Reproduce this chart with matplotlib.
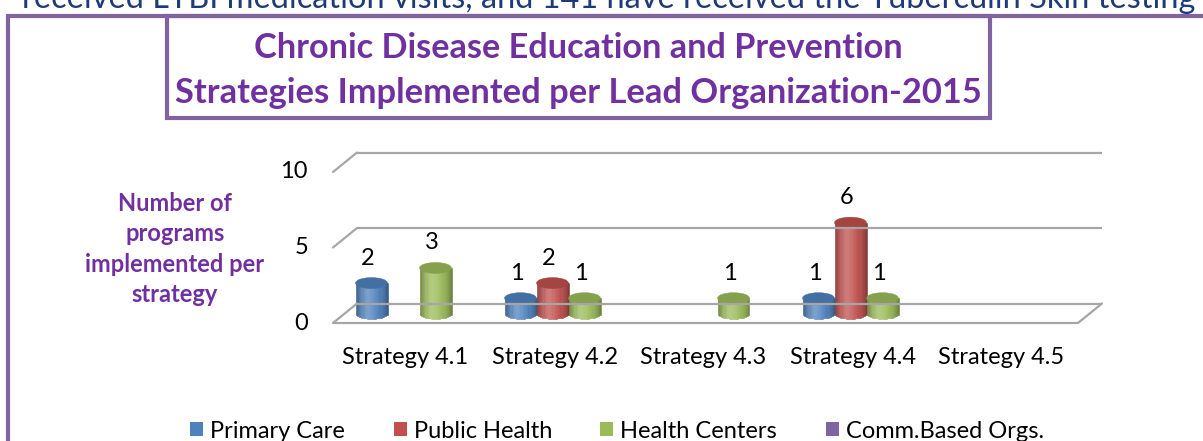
import numpy as np
import matplotlib
matplotlib.use("Agg")
import matplotlib.pyplot as plt
from matplotlib.patches import Rectangle, Ellipse, Patch
from matplotlib.lines import Line2D
from matplotlib.transforms import ScaledTranslation
from matplotlib.colors import to_rgb

# ---------------- data ----------------
categories = ["Strategy 4.1", "Strategy 4.2", "Strategy 4.3", "Strategy 4.4", "Strategy 4.5"]
series_names = ["Primary Care", "Public Health", "Health Centers", "Comm.Based Orgs."]
primary_care = [2, 1, 0, 1, 0]
public_health = [0, 2, 0, 6, 0]
health_centers = [3, 1, 1, 1, 0]
comm_based = [0, 0, 0, 0, 0]
y_ticks = [0, 5, 10]
title_lines = ["Chronic Disease Education and Prevention",
               "Strategies Implemented per Lead Organization-2015"]
y_title = "Number of\nprograms\nimplemented per\nstrategy"
top_text = "received LTBI medication visits, and 141 have received the Tuberculin Skin testing"

series = [primary_care, public_health, health_centers, comm_based]
colors = ["#4F81BD", "#C0504D", "#9BBB59", "#8064A2"]

W, H = 1203, 441
DPI = 100
plt.rcParams['font.family'] = ['Lato', 'DejaVu Sans']
fig = plt.figure(figsize=(W / DPI, H / DPI), dpi=DPI)
fig.patch.set_facecolor("white")

purple_txt = "#7030A0"
frame_col = "#8064A2"
FS = 17

# overlay axes in pixel coordinates for decorations
deco = fig.add_axes([0, 0, 1, 1])
deco.set_xlim(0, W)
deco.set_ylim(H, 0)
deco.axis("off")

# outer frame
deco.add_line(Line2D([8, 8, W + 5], [H + 5, 16, 16], color=frame_col, lw=3.0,
                     solid_joinstyle="miter"))
# title box
deco.add_patch(Rectangle((167, 16), 823, 102, fill=False, edgecolor=frame_col, lw=3.0))

renderer = fig.canvas.get_renderer()


def fit(t, width_px):
    bb = t.get_window_extent(renderer=renderer)
    t.set_fontsize(t.get_fontsize() * width_px / bb.width)


t0 = deco.text(22, 8, top_text, color="#1F3A78", fontsize=20, ha="left", va="baseline")
fit(t0, 1178)

tt1 = deco.text(578, 48, title_lines[0], color=purple_txt, fontsize=21, fontweight="bold",
                ha="center", va="center")
fit(tt1, 648)
tt2 = deco.text(578, 93, title_lines[1], color=purple_txt, fontsize=21, fontweight="bold",
                ha="center", va="center")
fit(tt2, 806)

deco.text(175, 249, y_title, color=purple_txt, fontsize=17, fontweight="bold",
          ha="center", va="center", linespacing=1.38)

# ---------------- chart axes (front plane) ----------------
x0, x1 = 333, 1078
yb, yt = 323, 172
ax = fig.add_axes([x0 / W, (H - yb) / H, (x1 - x0) / W, (yb - yt) / H])
ax.set_xlim(-0.5, len(categories) - 0.5)
ax.set_ylim(0, 10)
ax.axis("off")

depth_back = ax.transData + ScaledTranslation(24 / DPI, 19.5 / DPI, fig.dpi_scale_trans)
depth_mid = ax.transData + ScaledTranslation(12 / DPI, 9.75 / DPI, fig.dpi_scale_trans)

grid_col = "#A6A6A6"
xl, xr = -0.5, len(categories) - 0.5
for v in y_ticks:
    ax.plot([xl, xr], [v, v], color=grid_col, lw=1.6, transform=depth_back, clip_on=False,
            solid_capstyle="butt")
    ax.annotate("", xy=(xl, v), xycoords=depth_back, xytext=(xl, v), textcoords=ax.transData,
                arrowprops=dict(arrowstyle="-", color=grid_col, lw=1.6, shrinkA=0, shrinkB=0))
    ax.text(xl, v, str(v), transform=ax.transData + ScaledTranslation(-25 / DPI, 0, fig.dpi_scale_trans),
            ha="right", va="center", fontsize=FS, color="black")
ax.plot([xl, xr], [0, 0], color=grid_col, lw=1.6, clip_on=False, solid_capstyle="butt")
ax.annotate("", xy=(xr, 0), xycoords=depth_back, xytext=(xr, 0), textcoords=ax.transData,
            arrowprops=dict(arrowstyle="-", color=grid_col, lw=1.6, shrinkA=0, shrinkB=0))

for i, c in enumerate(categories):
    ax.text(i, 0, c, transform=ax.transData + ScaledTranslation(-2 / DPI, -35 / DPI, fig.dpi_scale_trans),
            ha="center", va="center", fontsize=FS, color="black")

# ---------------- cylinders ----------------
n_ser = len(series)
bw = 32 / 149.0
offsets = (np.arange(n_ser) - (n_ser - 1) / 2) * bw
eh = 11 / 15.1  # ellipse full height in value units


def shade(base, t):
    b = np.array(to_rgb(base))
    dark = 0.32 * abs(2 * t - 1) ** 2.5
    light = 0.22 * np.exp(-((t - 0.38) / 0.22) ** 2)
    c = b * (1 - dark)
    c = c + (1 - c) * light
    return np.clip(c, 0, 1)


def cylinder(xc, val, base):
    n = 28
    for k in range(n):
        ta, tb = k / n, (k + 1) / n
        tm = (ta + tb) / 2
        bot = -eh / 2 * np.sqrt(max(0.0, 1 - (2 * tm - 1) ** 2))
        col = shade(base, tm)
        ax.add_patch(Rectangle((xc - bw / 2 + ta * bw, bot), bw / n, val - bot,
                               facecolor=col, edgecolor=col, lw=0.4,
                               transform=depth_mid, clip_on=False))
    topc = np.array(to_rgb(base)) * 0.86
    ax.add_patch(Ellipse((xc, val), bw, eh, facecolor=topc, edgecolor=topc, lw=0.3,
                         transform=depth_mid, clip_on=False))


for s, (vals, col) in enumerate(zip(series, colors)):
    for i, v in enumerate(vals):
        if v <= 0:
            continue
        xc = i + offsets[s]
        cylinder(xc, v, col)
        ax.text(xc, v, str(v),
                transform=depth_mid + ScaledTranslation(-4 / DPI, 25 / DPI, fig.dpi_scale_trans),
                ha="center", va="center", fontsize=FS, color="black")

# ---------------- legend ----------------
handles = [Patch(facecolor=c, edgecolor="none") for c in colors]
fig.legend(handles, series_names, loc="center", bbox_to_anchor=(617 / W, 1 - 431 / H),
           ncol=4, frameon=False, fontsize=17, handlelength=0.55, handleheight=0.55,
           handletextpad=0.3, columnspacing=2.05)

fig.savefig("out.png", dpi=DPI, facecolor="white")
